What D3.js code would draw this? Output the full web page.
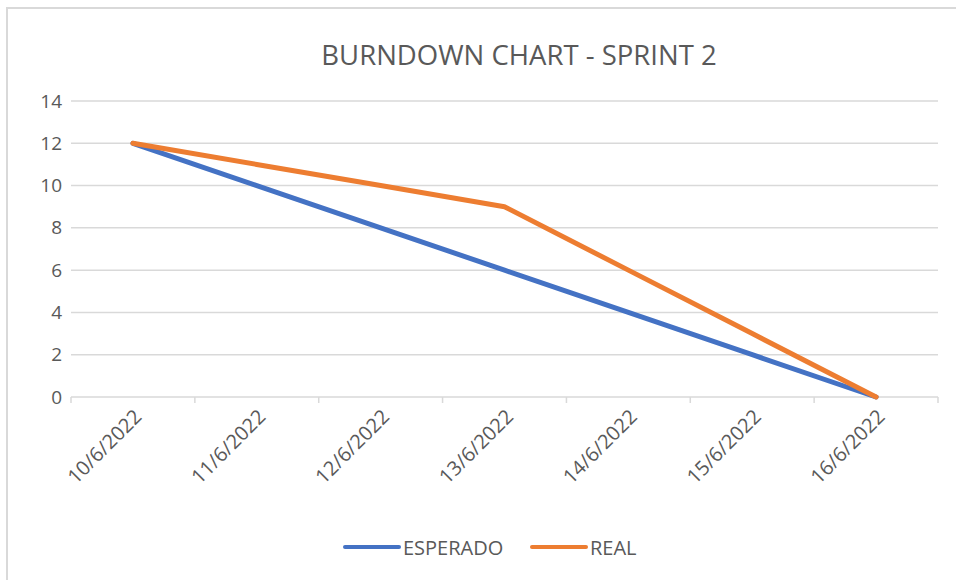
<!DOCTYPE html>
<html>
<head>
<meta charset="utf-8">
<script src="https://cdn.jsdelivr.net/npm/d3@7"></script>
<style>
  html, body { margin: 0; padding: 0; background: #fff; }
  svg { display: block; }
  text { font-family: "Open Sans", "Liberation Sans", sans-serif; fill: #595959; }
</style>
</head>
<body>
<svg id="chart" width="956" height="580"></svg>
<script>
// Burndown data for sprint 2
const dates = ["10/6/2022", "11/6/2022", "12/6/2022", "13/6/2022", "14/6/2022", "15/6/2022", "16/6/2022"];
const esperado = [12, 10, 8, 6, 4, 2, 0];
const real = [12, 11, 10, 9, 6, 3, 0];
const yTicks = [0, 2, 4, 6, 8, 10, 12, 14];
const seriesNames = ["ESPERADO", "REAL"];
const seriesColors = ["#4472C4", "#ED7D31"];
const title = "BURNDOWN CHART - SPRINT 2";

const svg = d3.select("#chart");
const W = 956, H = 580;
const plot = { left: 71, right: 938, top: 101, bottom: 397 };

// Chart frame (top and left edges visible)
svg.append("rect")
  .attr("x", 7).attr("y", 8)
  .attr("width", W + 20).attr("height", H + 20)
  .attr("fill", "#fff")
  .attr("stroke", "#d9d9d9").attr("stroke-width", 2);

svg.append("text")
  .attr("x", 519).attr("y", 65)
  .attr("text-anchor", "middle")
  .attr("font-size", 27.5)
  .text(title);

const x = d3.scaleBand().domain(dates).range([plot.left, plot.right]).padding(0);
const y = d3.scaleLinear().domain([0, 14]).range([plot.bottom, plot.top]);

// Horizontal gridlines
svg.append("g")
  .selectAll("line")
  .data(yTicks.filter(d => d !== 0))
  .join("line")
  .attr("x1", plot.left).attr("x2", plot.right)
  .attr("y1", d => y(d)).attr("y2", d => y(d))
  .attr("stroke", "#d9d9d9").attr("stroke-width", 1.5);

// Y axis labels
const yAxis = svg.append("g")
  .attr("transform", `translate(${plot.left},0)`)
  .call(d3.axisLeft(y).tickValues(yTicks).tickSize(0).tickPadding(9).tickFormat(d3.format("d")));
yAxis.select(".domain").remove();
yAxis.selectAll("text")
  .attr("font-size", 19)
  .attr("font-family", "\"Open Sans\", sans-serif")
  .attr("fill", "#595959");

// X axis with category tick marks at band edges
const xAxisG = svg.append("g").attr("transform", `translate(0,${plot.bottom})`);
xAxisG.append("line")
  .attr("x1", plot.left).attr("x2", plot.right)
  .attr("stroke", "#d9d9d9").attr("stroke-width", 1.5);
const edges = dates.map(d => x(d)).concat([plot.right]);
xAxisG.selectAll("line.tick")
  .data(edges)
  .join("line")
  .attr("class", "tick")
  .attr("x1", d => d).attr("x2", d => d)
  .attr("y1", 0).attr("y2", 6)
  .attr("stroke", "#d9d9d9").attr("stroke-width", 1.5);

xAxisG.selectAll("text.lab")
  .data(dates)
  .join("text")
  .attr("class", "lab")
  .attr("text-anchor", "end")
  .attr("font-size", 20)
  .attr("transform", d => `translate(${x(d) + x.bandwidth() / 2 + 10},${21}) rotate(-45)`)
  .text(d => d);

// Lines
const line = d3.line()
  .x((d, i) => x(dates[i]) + x.bandwidth() / 2)
  .y(d => y(d));

[esperado, real].forEach((vals, k) => {
  svg.append("path")
    .datum(vals)
    .attr("d", line)
    .attr("fill", "none")
    .attr("stroke", seriesColors[k])
    .attr("stroke-width", 5)
    .attr("stroke-linejoin", "round")
    .attr("stroke-linecap", "round");
});

// Legend
const legendPos = [343, 530];
const legend = svg.append("g");
seriesNames.forEach((name, k) => {
  const lx = legendPos[k];
  legend.append("line")
    .attr("x1", lx + 2).attr("x2", lx + 56)
    .attr("y1", 547).attr("y2", 547)
    .attr("stroke", seriesColors[k])
    .attr("stroke-width", 4)
    .attr("stroke-linecap", "round");
  legend.append("text")
    .attr("x", lx + 60).attr("y", 554.5)
    .attr("font-size", 20)
    .text(name);
});
</script>
</body>
</html>
